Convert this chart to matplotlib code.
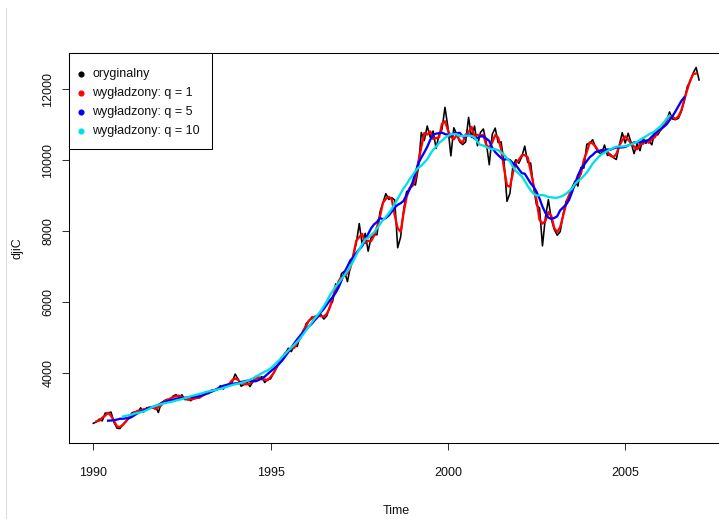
import numpy as np
import matplotlib
matplotlib.use("Agg")
import matplotlib.pyplot as plt
from matplotlib.lines import Line2D
from matplotlib.patches import Rectangle

# Dow Jones Industrial Average, monthly closes, Jan 1990 - Feb 2007
start_year = 1990
djiC = [
    2590.5, 2627.3, 2707.2, 2656.8, 2876.7, 2880.7, 2905.2, 2614.4, 2452.5, 2442.3, 2559.7, 2633.7,  # 1990
    2736.4, 2882.2, 2913.9, 2887.9, 3027.5, 2906.8, 3024.8, 3043.6, 3016.8, 3069.1, 2894.7, 3168.8,  # 1991
    3223.4, 3267.7, 3235.5, 3359.1, 3396.9, 3318.5, 3393.8, 3257.4, 3271.7, 3226.3, 3305.2, 3301.1,  # 1992
    3310.0, 3370.8, 3435.1, 3427.6, 3527.4, 3516.1, 3539.5, 3651.3, 3555.1, 3680.6, 3684.0, 3754.1,  # 1993
    3978.4, 3832.0, 3636.0, 3681.7, 3758.4, 3625.0, 3764.5, 3913.4, 3843.2, 3908.1, 3739.2, 3834.4,  # 1994
    3843.9, 4011.1, 4157.7, 4321.3, 4465.1, 4556.1, 4708.5, 4610.6, 4789.1, 4755.5, 5074.5, 5117.1,  # 1995
    5395.3, 5485.6, 5587.1, 5569.1, 5643.2, 5654.6, 5528.9, 5616.2, 5882.2, 6029.4, 6521.7, 6448.3,  # 1996
    6813.1, 6877.7, 6583.5, 7009.0, 7331.0, 7672.8, 8222.6, 7622.4, 7945.3, 7442.1, 7823.1, 7908.3,  # 1997
    7906.5, 8545.7, 8799.8, 9063.4, 8900.0, 8952.0, 8883.3, 7539.1, 7842.6, 8592.1, 9116.6, 9181.4,  # 1998
    9358.8, 9306.6, 9786.2, 10789.0, 10559.7, 10970.8, 10655.2, 10829.3, 10337.0, 10729.9, 10877.8, 11497.1,  # 1999
    10940.5, 10128.3, 10921.9, 10733.9, 10522.3, 10447.9, 10522.0, 11215.1, 10650.9, 10971.1, 10414.5, 10786.9,  # 2000
    10887.4, 10495.3, 9878.8, 10735.0, 10911.9, 10502.4, 10522.8, 9949.8, 8847.6, 9075.1, 9851.6, 10021.5,  # 2001
    9920.0, 10106.1, 10403.9, 9946.2, 9925.3, 9243.3, 8736.6, 8663.5, 7591.9, 8397.0, 8896.1, 8341.6,  # 2002
    8053.8, 7891.1, 7992.1, 8480.1, 8850.3, 8985.4, 9233.8, 9415.8, 9275.1, 9801.1, 9782.5, 10453.9,  # 2003
    10488.1, 10583.9, 10357.7, 10225.6, 10188.5, 10435.5, 10139.7, 10173.9, 10080.3, 10027.5, 10428.0, 10783.0,  # 2004
    10489.9, 10766.2, 10503.8, 10192.5, 10467.5, 10275.0, 10640.9, 10481.6, 10568.7, 10440.1, 10805.9, 10717.5,  # 2005
    10864.9, 10993.4, 11109.3, 11367.1, 11168.3, 11150.2, 11185.7, 11381.2, 11679.1, 12080.7, 12221.9, 12463.2,  # 2006
    12621.7, 12268.6,  # 2007
]
q_values = [1, 5, 10]
legend_labels = ["oryginalny", "wygładzony: q = 1", "wygładzony: q = 5", "wygładzony: q = 10"]
series_colors = ["black", "#FF0000", "#0000FF", "#00E0E8"]
x_ticks = [1990, 1995, 2000, 2005]
y_ticks = [4000, 6000, 8000, 10000, 12000]

plt.rcParams["font.family"] = ["Liberation Sans", "DejaVu Sans"]
FS = 9.0

values = np.asarray(djiC, dtype=float)
t = start_year + np.arange(len(values)) / 12.0


def centered_ma(x, q):
    """Centered moving average over 2q+1 points; ends left undefined."""
    w = np.ones(2 * q + 1) / (2 * q + 1)
    out = np.full(len(x), np.nan)
    out[q:len(x) - q] = np.convolve(x, w, mode="valid")
    return out


W, H = 719, 519
fig = plt.figure(figsize=(W / 100, H / 100), dpi=100)

# plot region in pixels (the frame runs past the right edge of the canvas)
left_px, right_px, top_px, bottom_px = 69.1, 723.3, 53.0, 443.0
ax = fig.add_axes([left_px / W, 1 - bottom_px / H,
                   (right_px - left_px) / W, (bottom_px - top_px) / H])

ax.plot(t, values, color=series_colors[0], lw=1.15, solid_joinstyle="round")
for q, c in zip(q_values, series_colors[1:]):
    ax.plot(t, centered_ma(values, q), color=c, lw=1.65, solid_joinstyle="round")

ax.margins(x=0.04, y=0.04)
ax.set_xticks(x_ticks)
ax.set_xticklabels([str(v) for v in x_ticks])
ax.set_yticks(y_ticks)
ax.set_yticklabels([str(v) for v in y_ticks], rotation=90, va="center")

for s in ax.spines.values():
    s.set_linewidth(0.75)
    s.set_color("black")
ax.tick_params(axis="both", length=5.0, width=0.75, color="#333333",
               labelsize=FS, labelcolor="#111111")
ax.tick_params(axis="x", pad=12.5)
ax.tick_params(axis="y", pad=5.7)

ax.set_xlabel("Time", fontsize=FS, color="#111111")
ax.xaxis.set_label_coords(0.5, (bottom_px - 511) / (bottom_px - top_px))
ax.xaxis.label.set_va("center")
ax.set_ylabel("djiC", fontsize=FS, color="#111111")
ax.yaxis.set_label_coords((17.5 - left_px) / (right_px - left_px), 0.5)
ax.yaxis.label.set_va("center")


def fx(px):
    return px / W


def fy(py):
    return 1 - py / H


# legend box in the top-left corner of the plot region
leg_left, leg_right, leg_top, leg_bottom = 69.1, 212.0, 53.0, 149.0
fig.add_artist(Rectangle((fx(leg_left), fy(leg_bottom)),
                         fx(leg_right) - fx(leg_left), fy(leg_top) - fy(leg_bottom),
                         transform=fig.transFigure, facecolor="white",
                         edgecolor="black", lw=0.75, zorder=5))
row_y = [74.3, 93.1, 111.9, 130.7]
for label, c, py in zip(legend_labels, series_colors, row_y):
    fig.add_artist(Line2D([fx(81.3)], [fy(py)], transform=fig.transFigure,
                          ls="none", marker="o", ms=3.4, color=c, zorder=6))
    fig.text(fx(92.3), fy(py), label, fontsize=FS, color="#111111",
             ha="left", va="center", zorder=6)

# thin grey rule near the left edge of the canvas
fig.add_artist(Line2D([fx(5.5), fx(5.5)], [fy(8), 0], transform=fig.transFigure,
                      color="#dcdcdc", lw=0.8))

fig.savefig("out.png", dpi=100)
